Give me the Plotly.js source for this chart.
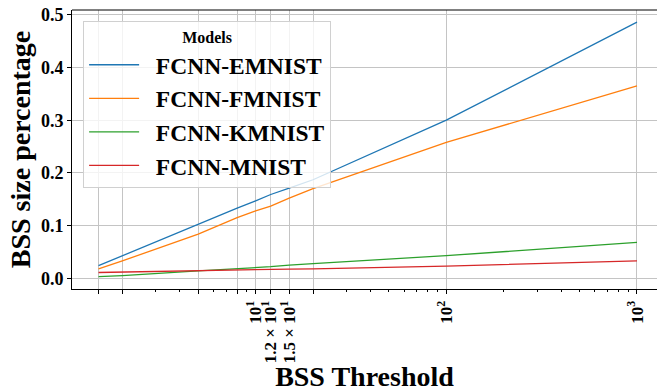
<!DOCTYPE html>
<html>
<head>
<meta charset="utf-8">
<script src="https://cdn.plot.ly/plotly-3.0.1.min.js"></script>
<style>html,body{margin:0;padding:0;overflow:hidden;background:#fff}</style>
</head>
<body>
<div id="chart" style="width:657px;height:392px"></div>
<script>
// BSS thresholds (x, log scale)
const thresholds = [1.5, 2, 5, 8, 10, 12, 15, 20, 100, 1000];
// Series values (BSS size percentage)
const emnist = [0.024, 0.043, 0.103, 0.133, 0.147, 0.159, 0.171, 0.187, 0.300, 0.486];
const fmnist = [0.018, 0.033, 0.084, 0.115, 0.128, 0.137, 0.152, 0.170, 0.258, 0.365];
const kmnist = [0.003, 0.005, 0.014, 0.018, 0.020, 0.022, 0.025, 0.028, 0.043, 0.068];
const mnist  = [0.011, 0.012, 0.014, 0.0155, 0.0165, 0.017, 0.0175, 0.018, 0.023, 0.033];
const seriesNames = ["FCNN-EMNIST", "FCNN-FMNIST", "FCNN-KMNIST", "FCNN-MNIST"];
const seriesColors = ["#1f77b4", "#ff7f0e", "#2ca02c", "#d62728"];
// Tick labels (only some thresholds are labelled)
const tickLabels = ["", "", "", "", "10<sup>1</sup>", "1.2 × 10<sup>1</sup>", "1.5 × 10<sup>1</sup>", "", "10<sup>2</sup>", "10<sup>3</sup>"];
const minorTicks = [3, 4, 6, 7, 9, 30, 40, 50, 60, 70, 80, 90, 200, 300, 400, 500, 600, 700, 800, 900];
const yTicks = [0, 0.1, 0.2, 0.3, 0.4, 0.5];

const serif = "Liberation Serif, Times New Roman, serif";
const allSeries = [emnist, fmnist, kmnist, mnist];
const traces = allSeries.map((ys, i) => ({
  x: thresholds, y: ys, type: "scatter", mode: "lines",
  name: "\u00a0\u00a0" + seriesNames[i], legendgroup: "g" + i,
  line: {color: seriesColors[i], width: 1.3}
}));

const layout = {
  width: 657, height: 392,
  margin: {l: 72, r: 0, t: 10, b: 103},
  paper_bgcolor: "#fff", plot_bgcolor: "#fff",
  font: {family: serif, color: "#000"},
  showlegend: true,
  legend: {
    x: 0.019, y: 0.96, xanchor: "left", yanchor: "top",
    bgcolor: "rgba(255,255,255,0.8)", bordercolor: "#d0d0d0", borderwidth: 1,
    font: {family: serif, size: 23.5, weight: "bold", color: "#000"},
    title: {text: "Models", side: "top center", font: {family: serif, size: 16, weight: "bold", color: "#000"}},
    tracegroupgap: 0, itemwidth: 50
  },
  xaxis: {
    type: "log",
    range: [0.037, 3.105],
    tickmode: "array", tickvals: thresholds, ticktext: tickLabels,
    tickangle: -90,
    tickfont: {family: serif, size: 17, weight: "bold", color: "#000"},
    ticks: "outside", ticklen: 4, tickcolor: "#000", tickwidth: 1,
    showgrid: true, gridcolor: "#c4c4c4", gridwidth: 1,
    minor: {tickmode: "array", tickvals: minorTicks, ticks: "outside", ticklen: 2, tickcolor: "#000", showgrid: false},
    showline: true, linecolor: "#000", linewidth: 1, mirror: false,
    zeroline: false, automargin: false,
    title: {text: "BSS Threshold", font: {family: serif, size: 28, weight: "bold", color: "#000"}, standoff: 4}
  },
  yaxis: {
    range: [-0.0203, 0.5091],
    tickmode: "array", tickvals: yTicks, tickformat: ".1f",
    tickfont: {family: serif, size: 18, weight: "bold", color: "#000"},
    ticks: "outside", ticklen: 4, tickcolor: "#000", tickwidth: 1,
    showgrid: true, gridcolor: "#c4c4c4", gridwidth: 1,
    showline: true, linecolor: "#000", linewidth: 1, mirror: false,
    zeroline: false, automargin: false,
    title: {text: "BSS size percentage", font: {family: serif, size: 28, weight: "bold", color: "#000"}, standoff: 2}
  },
  shapes: [{type: "line", xref: "paper", yref: "paper", x0: 0, x1: 1, y0: 1, y1: 1, line: {color: "#000", width: 1}}]
};

Plotly.newPlot("chart", traces, layout, {displayModeBar: false, staticPlot: true});
</script>
</body>
</html>
